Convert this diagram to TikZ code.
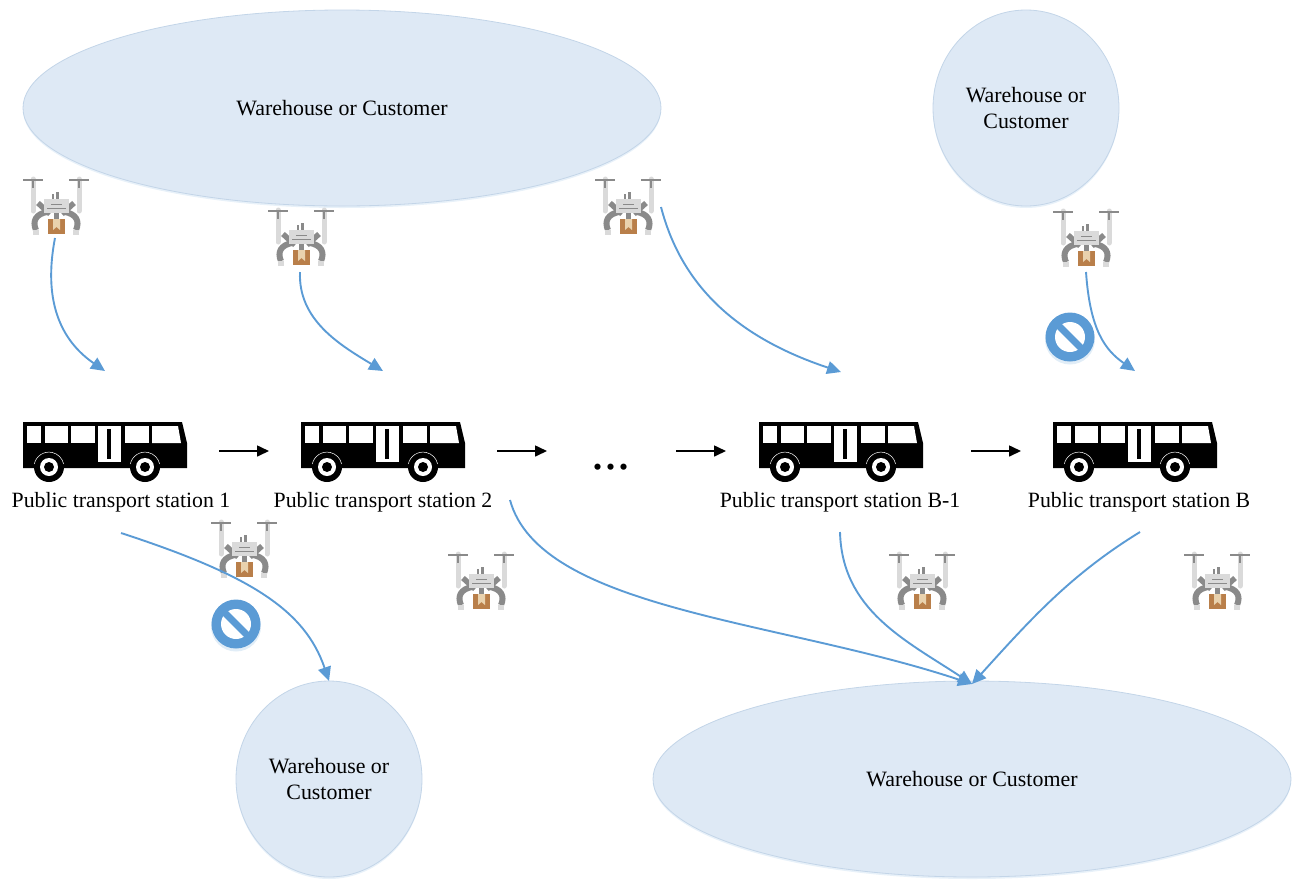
\documentclass[tikz,border=0pt]{standalone}
\usepackage{fontspec}
\setmainfont{Liberation Serif}
\usetikzlibrary{arrows.meta,shapes.geometric}
\definecolor{placefill}{HTML}{DEE9F5}
\definecolor{placeedge}{HTML}{C3D5E8}
\definecolor{flow}{HTML}{5B9BD5}
\definecolor{dronedark}{HTML}{8A8A8A}
\definecolor{dronelight}{HTML}{DADADA}
\definecolor{parcel}{HTML}{B97F4A}
\definecolor{parceltape}{HTML}{E9D2AE}
\tikzset{
 x=1pt,y=-1pt,
 place/.style={ellipse,fill=placefill,draw=placeedge,line width=.8pt,inner sep=0pt,align=center,font=\fontsize{21.9}{26}\selectfont,
   preaction={fill=flow!14,draw=none,transform canvas={yshift=-2pt}}},
 stationlabel/.style={inner sep=0pt,font=\fontsize{21.8}{24}\selectfont},
 flowline/.style={draw=flow,line width=1.9pt,-{Triangle[length=14pt,width=13pt]}},
 busline/.style={draw=black,line width=1.6pt,-{Triangle[length=12pt,width=11pt]}},
 drone/.pic={
  \draw[dronelight,line width=5pt,line cap=round] (-23,-29)--(-23,3);
  \draw[dronelight,line width=5pt,line cap=round] (23,-29)--(23,3);
  \draw[dronedark,line width=2.6pt] (-33,-28)--(-13,-28);
  \draw[dronedark,line width=2.6pt] (13,-28)--(33,-28);
  \draw[dronedark,line width=1.5pt] (-23,-27)--(-23,-20);
  \draw[dronedark,line width=1.5pt] (23,-27)--(23,-20);
  \draw[dronedark,line width=5.5pt] (-18,-5)--(-6,6);
  \draw[dronedark,line width=5.5pt] (18,-5)--(6,6);
  \draw[dronedark,line width=6pt] (-20,22) .. controls (-24,13) and (-20,6) .. (-9,4);
  \draw[dronedark,line width=6pt] (20,22) .. controls (24,13) and (20,6) .. (9,4);
  \draw[dronelight,line width=6pt] (-20,22)--(-20,27);
  \draw[dronelight,line width=6pt] (20,22)--(20,27);
  \draw[dronedark,line width=2.2pt] (-3,-14)--(-3,-8);
  \draw[dronedark,line width=2.2pt] (1.5,-16)--(1.5,-8);
  \fill[dronelight] (-12,-9) rectangle (13,5);
  \draw[dronedark,line width=1.6pt] (-5,-3.5)--(6,-3.5);
  \draw[dronedark,line width=1.6pt] (-9,0.5)--(10,0.5);
  \fill[dronedark] (-2,5) rectangle (3,11);
  \fill[parcel] (-8,11) rectangle (9,26);
  \fill[parceltape] (-3,11)--(4,11)--(4,22)--(.5,19)--(-3,22)--cycle;
 },
 bus/.pic={
  \fill[black] (-82,-23)--(77,-23)--(82,-2)--(82,23)--(-82,23)--cycle;
  \fill[white] (-78,-19) rectangle (-64.5,-2);
  \fill[white] (-60.5,-19) rectangle (-37.5,-2);
  \fill[white] (-34,-19) rectangle (-10.5,-2);
  \fill[white] (-7,-19) rectangle (16,17);
  \fill[black] (2,-16) rectangle (6,14);
  \fill[white] (20,-19) rectangle (43.5,-2);
  \fill[white] (47,-19)--(73,-19)--(76,-2)--(47,-2)--cycle;
  \foreach \wx in {-56,40}{
   \fill[black] (\wx,22) circle[radius=15pt];
   \draw[white,line width=.5pt] (\wx,22) ++(-14.7,-3) arc[start angle=168,end angle=12,radius=15pt];
   \fill[white] (\wx,22) circle[radius=9pt];
   \fill[black] (\wx,22) circle[radius=5pt];
  };
 },
 noentry/.pic={
  \fill[flow!18] (0,2.5) circle[radius=25pt];
  \fill[flow] (0,0) circle[radius=24.5pt];
  \fill[white] (0,0) circle[radius=15pt];
  \draw[flow,line width=7pt] (-11,-11)--(11,11);
 }
}
\begin{document}
\begin{tikzpicture}
\useasboundingbox (0,0) rectangle (1298,879);
% places
\node[place,minimum width=638pt,minimum height=196pt] (p1) at (342,108) {Warehouse or Customer};
\node[place,minimum width=186pt,minimum height=196pt] (p2) at (1026,108) {Warehouse or\\Customer};
\node[place,minimum width=186pt,minimum height=196pt] (p3) at (329,779) {Warehouse or\\Customer};
\node[place,minimum width=638pt,minimum height=196pt] (p4) at (972,779) {Warehouse or Customer};
% buses
\pic at (105,445) {bus};
\pic at (383,445) {bus};
\pic at (841,445) {bus};
\pic at (1135,445) {bus};
% station labels
\node[stationlabel] (s1) at (121,502) {Public transport station 1};
\node[stationlabel] (s2) at (383,502) {Public transport station 2};
\node[stationlabel] (s3) at (840,502) {Public transport station B-1};
\node[stationlabel] (s4) at (1139,502) {Public transport station B};
\node[inner sep=0pt,anchor=base,font=\fontsize{52}{52}\selectfont] (dots) at (611,469) {...};
% drones
\pic at (56,208) {drone};
\pic at (301,239) {drone};
\pic at (628,208) {drone};
\pic at (1086,240) {drone};
\pic at (244,551) {drone};
\pic at (481,583) {drone};
\pic at (922,583) {drone};
\pic at (1217,583) {drone};
% no-entry marks
\pic at (1070,337) {noentry};
\pic at (236,624) {noentry};
% connector ends
\coordinate (a1) at (55,238); \coordinate (b1) at (105,371);
\coordinate (a2) at (300,272); \coordinate (b2) at (383,371);
\coordinate (a3) at (661,207); \coordinate (b3) at (841,372);
\coordinate (a4) at (1086,272); \coordinate (b4) at (1135,371);
\coordinate (a5) at (121,533); \coordinate (b5) at (329,681);
\coordinate (a6) at (510,500); \coordinate (a7) at (840,532); \coordinate (a8) at (1140,532);
\coordinate (b6) at (972,684);
\draw[flowline] (a1) .. controls (43,300) and (60,340) .. (b1);
\draw[flowline] (a2) .. controls (298,320) and (340,345) .. (b2);
\draw[flowline] (a3) .. controls (680,280) and (730,335) .. (b3);
\draw[flowline] (a4) .. controls (1090,330) and (1105,350) .. (b4);
\draw[flowline] (a5) .. controls (250,575) and (305,610) .. (b5);
\draw[flowline] (a6) .. controls (540,610) and (780,620) .. (b6);
\draw[flowline] (a7) .. controls (842,610) and (905,640) .. (b6);
\draw[flowline] (a8) .. controls (1070,575) and (1030,620) .. (b6);
% bus arrows
\coordinate (c1) at (219,451); \coordinate (d1) at (269,451);
\coordinate (c2) at (497,451); \coordinate (d2) at (547,451);
\coordinate (c3) at (676,451); \coordinate (d3) at (726,451);
\coordinate (c4) at (971,451); \coordinate (d4) at (1021,451);
\draw[busline] (c1)--(d1);
\draw[busline] (c2)--(d2);
\draw[busline] (c3)--(d3);
\draw[busline] (c4)--(d4);
\end{tikzpicture}
\end{document}
